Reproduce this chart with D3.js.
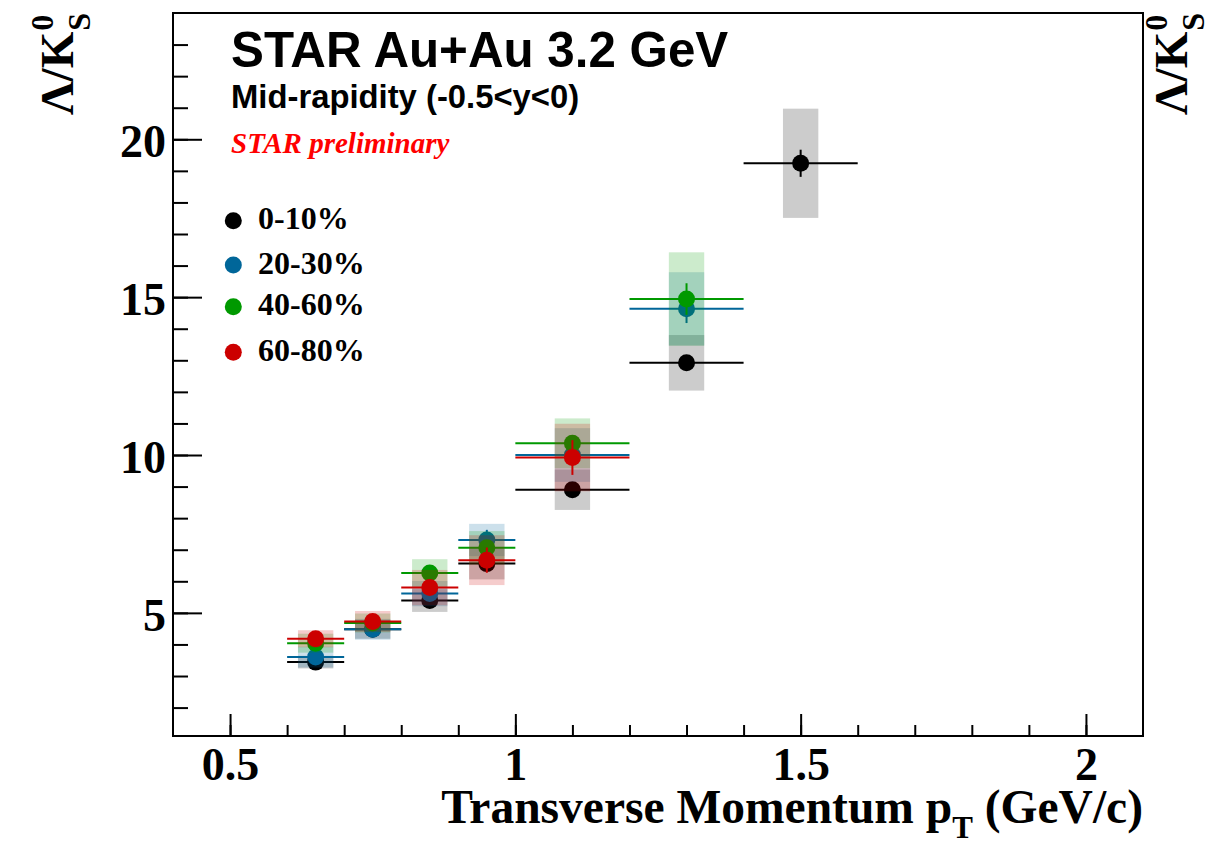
<!DOCTYPE html>
<html>
<head>
<meta charset="utf-8">
<script src="https://cdn.jsdelivr.net/npm/d3@7"></script>
<style>
  html, body { margin: 0; padding: 0; background: #fff; }
  svg { display: block; }
  .serif { font-family: "Liberation Serif", "Times New Roman", Times, serif; font-weight: bold; }
  .sans { font-family: "Liberation Sans", Arial, Helvetica, sans-serif; font-weight: bold; }
</style>
</head>
<body>
<svg id="chart" width="1213" height="845"></svg>
<script>
// pT bins (GeV/c): centres and half widths
const ptCenters   = [0.65, 0.75, 0.85, 0.95, 1.1, 1.3, 1.5];
const ptHalfWidth = [0.05, 0.05, 0.05, 0.05, 0.1, 0.1, 0.1];

// Lambda / K0s ratio per centrality class (null = no measurement)
const ratio_0_10  = [3.44, 4.48, 5.39, 6.56, 8.90, 12.92, 19.24];
const stat_0_10   = [0.10, 0.10, 0.12, 0.15, 0.20, 0.22, 0.43];
const sys_0_10    = [0.20, 0.30, 0.36, 0.50, 0.64, 0.88, 1.73];

const ratio_20_30 = [3.60, 4.48, 5.61, 7.31, 10.00, 14.63, null];
const stat_20_30  = [0.10, 0.10, 0.12, 0.32, 0.25, 0.45, null];
const sys_20_30   = [0.33, 0.33, 0.40, 0.51, 0.85, 1.16, null];

const ratio_40_60 = [4.04, 4.68, 6.26, 7.06, 10.37, 14.94, null];
const stat_40_60  = [0.10, 0.10, 0.15, 0.20, 0.25, 0.50, null];
const sys_40_60   = [0.30, 0.30, 0.44, 0.53, 0.79, 1.48, null];

const ratio_60_80 = [4.18, 4.73, 5.80, 6.67, 9.92, null, null];
const stat_60_80  = [0.12, 0.12, 0.20, 0.40, 0.55, null, null];
const sys_60_80   = [0.27, 0.33, 0.56, 0.79, 1.07, null, null];

const centralityLabels = ["0-10%", "20-30%", "40-60%", "60-80%"];
const seriesColors     = ["#000000", "#006699", "#009900", "#cc0000"];

// axis ticks
const xMajorTicks = [0.5, 1, 1.5, 2];
const xTickLabels = ["0.5", "1", "1.5", "2"];
const xMinorTicks = [0.5, 0.6, 0.7, 0.8, 0.9, 1.0, 1.1, 1.2, 1.3, 1.4, 1.5, 1.6, 1.7, 1.8, 1.9, 2.0];
const yMajorTicks = [5, 10, 15, 20];
const yTickLabels = ["5", "10", "15", "20"];
const yMinorTicks = [2, 3, 4, 5, 6, 7, 8, 9, 10, 11, 12, 13, 14, 15, 16, 17, 18, 19, 20, 21, 22, 23];

const series = [
  { label: centralityLabels[0], color: seriesColors[0], y: ratio_0_10,  stat: stat_0_10,  sys: sys_0_10 },
  { label: centralityLabels[1], color: seriesColors[1], y: ratio_20_30, stat: stat_20_30, sys: sys_20_30 },
  { label: centralityLabels[2], color: seriesColors[2], y: ratio_40_60, stat: stat_40_60, sys: sys_40_60 },
  { label: centralityLabels[3], color: seriesColors[3], y: ratio_60_80, stat: stat_60_80, sys: sys_60_80 }
];

// frame geometry
const frame = { left: 173, right: 1143, top: 13, bottom: 736 };
const x = d3.scaleLinear().domain([0.4, 2.1]).range([frame.left, frame.right]);
const y = d3.scaleLinear().domain([1.1, 24]).range([frame.bottom, frame.top]);

const sysHalfWidth = 0.031;   // half width of systematic boxes in pT
const markerR = 8.5;

const svg = d3.select("#chart");

// ---- data ----
const plot = svg.append("g");
series.forEach(s => {
  const pts = ptCenters.map((pt, i) => ({ pt, hw: ptHalfWidth[i], v: s.y[i], st: s.stat[i], sy: s.sys[i] }))
                       .filter(d => d.v !== null);
  const g = plot.append("g");
  // systematic boxes
  g.selectAll("rect.sys").data(pts).join("rect")
    .attr("x", d => x(d.pt - sysHalfWidth))
    .attr("width", d => x(d.pt + sysHalfWidth) - x(d.pt - sysHalfWidth))
    .attr("y", d => y(d.v + d.sy))
    .attr("height", d => y(d.v - d.sy) - y(d.v + d.sy))
    .attr("fill", s.color).attr("fill-opacity", 0.2);
  // horizontal bin-width bars
  g.selectAll("line.h").data(pts).join("line")
    .attr("x1", d => x(d.pt - d.hw)).attr("x2", d => x(d.pt + d.hw))
    .attr("y1", d => y(d.v)).attr("y2", d => y(d.v))
    .attr("stroke", s.color).attr("stroke-width", 2);
  // statistical error bars
  g.selectAll("line.v").data(pts).join("line")
    .attr("x1", d => x(d.pt)).attr("x2", d => x(d.pt))
    .attr("y1", d => y(d.v + d.st)).attr("y2", d => y(d.v - d.st))
    .attr("stroke", s.color).attr("stroke-width", 2);
  // markers
  g.selectAll("circle").data(pts).join("circle")
    .attr("cx", d => x(d.pt)).attr("cy", d => y(d.v))
    .attr("r", markerR).attr("fill", s.color);
});

// ---- axes ----
const axes = svg.append("g");
axes.append("g").attr("transform", `translate(0,${frame.bottom})`)
  .call(d3.axisBottom(x).tickValues(xMinorTicks).tickFormat("").tickSizeInner(-11).tickSizeOuter(0))
  .call(g => g.select(".domain").remove());
const xMaj = axes.append("g").attr("transform", `translate(0,${frame.bottom})`)
  .call(d3.axisBottom(x).tickValues(xMajorTicks).tickFormat((d, i) => xTickLabels[i]).tickSizeInner(-22).tickSizeOuter(0).tickPadding(11))
  .call(g => g.select(".domain").remove());
xMaj.selectAll("text").attr("class", "serif").attr("font-size", 46).attr("fill", "#000");

axes.append("g").attr("transform", `translate(${frame.left},0)`)
  .call(d3.axisLeft(y).tickValues(yMinorTicks).tickFormat("").tickSizeInner(-15).tickSizeOuter(0))
  .call(g => g.select(".domain").remove());
const yMaj = axes.append("g").attr("transform", `translate(${frame.left},0)`)
  .call(d3.axisLeft(y).tickValues(yMajorTicks).tickFormat((d, i) => yTickLabels[i]).tickSizeInner(-29).tickSizeOuter(0).tickPadding(7))
  .call(g => g.select(".domain").remove());
yMaj.selectAll("text").attr("class", "serif").attr("font-size", 46).attr("fill", "#000").attr("dy", "0.38em");

axes.selectAll(".tick line").attr("stroke", "#000").attr("stroke-width", 2);

// frame
svg.append("rect")
  .attr("x", frame.left).attr("y", frame.top)
  .attr("width", frame.right - frame.left).attr("height", frame.bottom - frame.top)
  .attr("fill", "none").attr("stroke", "#000").attr("stroke-width", 2);

// ---- axis titles ----
const xt = svg.append("text").attr("class", "serif")
  .attr("x", frame.right).attr("y", 823).attr("text-anchor", "end")
  .attr("font-size", 47.5).attr("fill", "#000");
xt.append("tspan").text("Transverse Momentum p");
xt.append("tspan").attr("font-size", 31).attr("dy", 15).text("T");
xt.append("tspan").attr("dy", -15).text(" (GeV/c)");

function yTitle(baseX) {
  const g = svg.append("g").attr("transform", `translate(${baseX},0) rotate(-90)`);
  const sup = g.append("text").attr("class", "serif").attr("font-size", 32).text("0");
  const sub = g.append("text").attr("class", "serif").attr("font-size", 32).text("S");
  const w = Math.max(sup.node().getComputedTextLength(), sub.node().getComputedTextLength());
  const endU = -14 - w;
  g.append("text").attr("class", "serif").attr("font-size", 47)
    .attr("x", endU).attr("y", 0).attr("text-anchor", "end").text("\u039B/K");
  sup.attr("x", endU + 1).attr("y", -20);
  sub.attr("x", endU + 1).attr("y", 17);
}
yTitle(73);
yTitle(1187);

// ---- labels ----
svg.append("text").attr("class", "sans").attr("x", 231).attr("y", 66.7)
  .attr("font-size", 49.3).attr("fill", "#000").text("STAR Au+Au 3.2 GeV");
svg.append("text").attr("class", "sans").attr("x", 231).attr("y", 108.3)
  .attr("font-size", 32.8).attr("fill", "#000").text("Mid-rapidity (-0.5<y<0)");
svg.append("text").attr("class", "serif").attr("x", 231).attr("y", 152.7)
  .attr("font-size", 29).attr("font-style", "italic").attr("fill", "#ff0000").text("STAR preliminary");

// ---- legend ----
const legendY = [220.7, 265, 306.7, 352.3];
const leg = svg.append("g");
series.forEach((s, i) => {
  leg.append("circle").attr("cx", 233.3).attr("cy", legendY[i]).attr("r", markerR).attr("fill", s.color);
  leg.append("text").attr("class", "serif").attr("x", 258).attr("y", legendY[i] + 8.6)
    .attr("font-size", 32).attr("fill", "#000").text(s.label);
});
</script>
</body>
</html>
